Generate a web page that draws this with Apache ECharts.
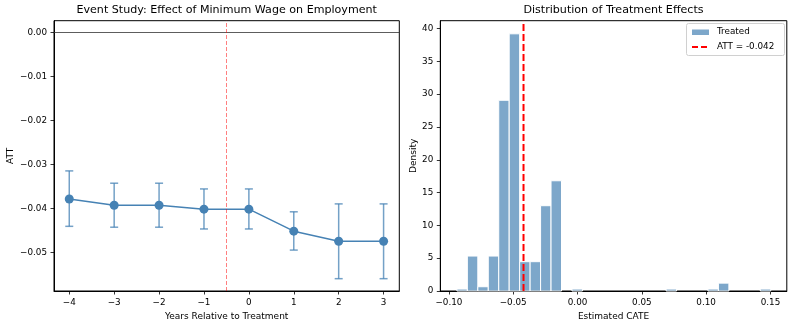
<!DOCTYPE html>
<html><head><meta charset="utf-8">
<script src="https://cdn.jsdelivr.net/npm/echarts@6/dist/echarts.min.js"></script>
<style>html,body{margin:0;padding:0;background:#fff}#c{width:793px;height:326px}</style>
</head><body><div id="c"></div>
<script>
// ---- Event study data ----
const eventYears = [-4, -3, -2, -1, 0, 1, 2, 3];
const eventATT   = [-0.0379, -0.0393, -0.0393, -0.0402, -0.0402, -0.0452, -0.0475, -0.0475];
const eventLo    = [-0.0441, -0.0443, -0.0443, -0.0447, -0.0447, -0.0495, -0.0560, -0.0560];
const eventHi    = [-0.0315, -0.0343, -0.0343, -0.0356, -0.0356, -0.0408, -0.0390, -0.0390];
const eventXTicks = [-4, -3, -2, -1, 0, 1, 2, 3];
const eventYTicks = [-0.05, -0.04, -0.03, -0.02, -0.01, 0.00];
const treatLine = -0.5;

// ---- Histogram data ----
const binLo = -0.0938, binHi = 0.1502;
const histDensity = [0.3, 5.33, 0.65, 5.33, 29.07, 39.2, 4.47, 4.47, 13.0, 16.8,
                     0, 0.3, 0, 0, 0, 0, 0, 0, 0, 0,
                     0.3, 0, 0, 0, 0.3, 1.2, 0, 0, 0, 0.3];
const attValue = -0.042;
const histXTicks = [-0.10, -0.05, 0.00, 0.05, 0.10, 0.15];
const histYTicks = [0, 5, 10, 15, 20, 25, 30, 35, 40];

const FONT = 'DejaVu Sans';
const TICK_FS = 8.8, LABEL_FS = 9, TITLE_FS = 11.1;
const fmt2 = v => (v < -1e-9 ? '\u2212' : '') + Math.abs(v).toFixed(2);

const nb = histDensity.length;
const bw = (binHi - binLo) / nb;
const histData = histDensity.map((d, i) => [binLo + i * bw, binLo + (i + 1) * bw, d]);
const errData = eventYears.map((x, i) => [x, eventLo[i], eventHi[i]]);

const axisCommon = {
  axisLine: {show: true, onZero: false, lineStyle: {color: '#000', width: 1}},
  axisTick: {show: true, length: 3.5, lineStyle: {color: '#000', width: 0.8}},
  splitLine: {show: false},
  nameTextStyle: {fontFamily: FONT, fontSize: LABEL_FS, color: '#000'}
};
const lbl = (extra) => Object.assign({fontFamily: FONT, fontSize: TICK_FS, color: '#000', margin: 7}, extra);

const chart = echarts.init(document.getElementById('c'), null, {renderer: 'canvas'});
chart.setOption({
  animation: false,
  backgroundColor: '#fff',
  title: [
    {text: 'Event Study: Effect of Minimum Wage on Employment', left: 226.7, top: 5, padding: 0, textAlign: 'center',
     textStyle: {fontFamily: FONT, fontSize: TITLE_FS, fontWeight: 'normal', color: '#000'}},
    {text: 'Distribution of Treatment Effects', left: 613.5, top: 5, padding: 0, textAlign: 'center',
     textStyle: {fontFamily: FONT, fontSize: TITLE_FS, fontWeight: 'normal', color: '#000'}}
  ],
  grid: [
    {left: 54, top: 20.7, width: 345.3, height: 270.3, show: true, borderColor: '#000', borderWidth: 1, backgroundColor: 'transparent'},
    {left: 440.3, top: 20.7, width: 346.5, height: 270.3, show: true, borderColor: '#000', borderWidth: 1, backgroundColor: 'transparent'}
  ],
  xAxis: [
    Object.assign({}, axisCommon, {
      type: 'value', gridIndex: 0, min: -4.34, max: 3.35,
      name: 'Years Relative to Treatment', nameLocation: 'middle', nameGap: 18,
      axisTick: Object.assign({}, axisCommon.axisTick, {customValues: eventXTicks}),
      axisLabel: lbl({customValues: eventXTicks, formatter: v => (v < 0 ? '\u2212' : '') + Math.abs(v)})
    }),
    Object.assign({}, axisCommon, {
      type: 'value', gridIndex: 1, min: -0.1067, max: 0.1627,
      name: 'Estimated CATE', nameLocation: 'middle', nameGap: 18,
      axisTick: Object.assign({}, axisCommon.axisTick, {customValues: histXTicks}),
      axisLabel: lbl({customValues: histXTicks, formatter: fmt2})
    })
  ],
  yAxis: [
    Object.assign({}, axisCommon, {
      type: 'value', gridIndex: 0, min: -0.0588, max: 0.00264,
      name: 'ATT', nameLocation: 'middle', nameGap: 39, nameRotate: 90,
      axisTick: Object.assign({}, axisCommon.axisTick, {customValues: eventYTicks}),
      axisLabel: lbl({customValues: eventYTicks, formatter: fmt2})
    }),
    Object.assign({}, axisCommon, {
      type: 'value', gridIndex: 1, min: 0, max: 41.2,
      name: 'Density', nameLocation: 'middle', nameGap: 21, nameRotate: 90,
      axisTick: Object.assign({}, axisCommon.axisTick, {customValues: histYTicks}),
      axisLabel: lbl({customValues: histYTicks})
    })
  ],
  series: [
    {
      type: 'custom', xAxisIndex: 0, yAxisIndex: 0, data: errData, z: 3,
      renderItem: function (params, api) {
        const x = api.value(0);
        const top = api.coord([x, api.value(2)]);
        const bot = api.coord([x, api.value(1)]);
        const cap = 4;
        const st = {stroke: 'rgba(70,130,180,0.75)', lineWidth: 1.5};
        return {type: 'group', children: [
          {type: 'line', shape: {x1: top[0], y1: top[1], x2: bot[0], y2: bot[1]}, style: st},
          {type: 'line', shape: {x1: top[0] - cap, y1: top[1], x2: top[0] + cap, y2: top[1]}, style: st},
          {type: 'line', shape: {x1: bot[0] - cap, y1: bot[1], x2: bot[0] + cap, y2: bot[1]}, style: st}
        ]};
      }
    },
    {
      type: 'line', xAxisIndex: 0, yAxisIndex: 0, z: 4,
      data: eventYears.map((x, i) => [x, eventATT[i]]),
      symbol: 'circle', symbolSize: 9,
      itemStyle: {color: '#4682B4'},
      lineStyle: {color: '#4682B4', width: 1.5},
      markLine: {
        silent: true, symbol: ['none', 'none'], label: {show: false},
        data: [
          {yAxis: 0, lineStyle: {color: '#333', width: 0.8, type: 'solid'}},
          {xAxis: treatLine, lineStyle: {color: 'rgba(255,0,0,0.5)', width: 1, type: [4, 2]}}
        ]
      }
    },
    {
      type: 'custom', xAxisIndex: 1, yAxisIndex: 1, data: histData, z: 2,
      renderItem: function (params, api) {
        const p1 = api.coord([api.value(0), api.value(2)]);
        const p2 = api.coord([api.value(1), 0]);
        if (api.value(2) <= 0) return null;
        return {type: 'rect', shape: {x: p1[0], y: p1[1], width: p2[0] - p1[0], height: p2[1] - p1[1]},
                style: {fill: 'rgba(70,130,180,0.7)', stroke: '#fff', lineWidth: 1}};
      }
    },
    {
      type: 'line', xAxisIndex: 1, yAxisIndex: 1, z: 5,
      data: [[attValue, 0], [attValue, 41.2]], symbol: 'none',
      lineStyle: {color: '#FF0000', width: 2, type: [7, 3]}
    }
  ],
  graphic: [
    {type: 'rect', left: 686, top: 23, shape: {width: 98, height: 32, r: 2},
     style: {fill: 'rgba(255,255,255,0.8)', stroke: '#d0d0d0', lineWidth: 1}, z: 10},
    {type: 'rect', left: 692, top: 29.5, shape: {width: 17, height: 5.5},
     style: {fill: 'rgba(70,130,180,0.7)'}, z: 11},
    {type: 'text', left: 717, top: 27, style: {text: 'Treated', font: '8.8px "DejaVu Sans"', fill: '#000'}, z: 11},
    {type: 'line', shape: {x1: 692, y1: 47, x2: 709, y2: 47},
     style: {stroke: '#FF0000', lineWidth: 2, lineDash: [6, 3]}, z: 11},
    {type: 'text', left: 717, top: 42, style: {text: 'ATT = -0.042', font: '8.8px "DejaVu Sans"', fill: '#000'}, z: 11}
  ]
});
</script></body></html>
